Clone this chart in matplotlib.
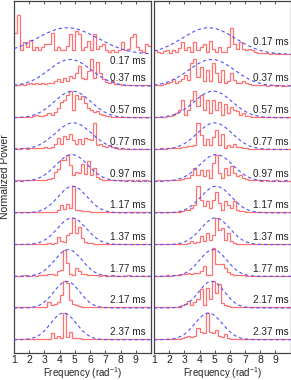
import numpy as np
import matplotlib
matplotlib.use("Agg")
import matplotlib.pyplot as plt

plt.rcParams['font.family'] = ['Liberation Sans', 'DejaVu Sans']
plt.rcParams['mathtext.default'] = 'regular'

delay_labels = ['0.17 ms', '0.37 ms', '0.57 ms', '0.77 ms', '0.97 ms',
                '1.17 ms', '1.37 ms', '1.77 ms', '2.17 ms', '2.37 ms']
freq_ticks = [1, 2, 3, 4, 5, 6, 7, 8, 9]
bin_start = 1.0
bin_width = 0.2

left_power = [
    [0.8, 1.48, 0.15, 0.45, 0.27, 0.54, 0.15, 0.27, 0.15, 0.27, 0.4, 0.4, 0.79, 0.15, 0.27, 0.15, 0.15, 0.33, 0.76, 0.15,
     0.86, 0.76, 0.15, 0.27, 0.52, 0.15, 0.76, 0.21, 0.33, 0.4, 0.15, 0.09, 0.15, 0.09, 0.15, 0.46, 0.15, 0.21, 0.64, 0.76,
     0.27, 0.15, 0.09, 0.4, 0.33],
    [0.05, 0.04, 0.06, 0.05, 0.08, 0.1, 0.06, 0.12, 0.08, 0.1, 0.07, 0.12, 0.1, 0.2, 0.25, 0.15, 0.3, 0.2, 0.38, 0.3,
     0.5, 0.75, 0.3, 0.25, 0.55, 1.0, 0.3, 0.9, 0.5, 0.25, 0.15, 0.1, 0.18, 0.08, 0.06, 0.05, 0.04, 0.03, 0.05, 0.03,
     0.04, 0.03, 0.04, 0.03, 0.03],
    [0.03, 0.02, 0.03, 0.02, 0.04, 0.03, 0.08, 0.1, 0.06, 0.05, 0.1, 0.18, 0.12, 0.2, 0.35, 0.6, 0.65, 0.85, 1.0, 0.3,
     0.85, 0.7, 0.8, 0.55, 0.35, 0.3, 0.2, 0.25, 0.15, 0.1, 0.08, 0.05, 0.04, 0.03, 0.03, 0.04, 0.03, 0.03, 0.02, 0.03,
     0.03, 0.02, 0.03, 0.03, 0.02],
    [0.04, 0.03, 0.05, 0.04, 0.03, 0.04, 0.05, 0.06, 0.05, 0.06, 0.08, 0.07, 0.1, 0.2, 0.45, 0.2, 0.5, 0.4, 0.6, 0.35,
     0.2, 0.4, 0.2, 0.45, 0.4, 0.35, 1.0, 0.15, 0.2, 0.12, 0.1, 0.15, 0.08, 0.05, 0.03, 0.04, 0.03, 0.03, 0.03, 0.02,
     0.03, 0.03, 0.02, 0.03, 0.03],
    [0.02, 0.03, 0.02, 0.03, 0.03, 0.04, 0.03, 0.04, 0.05, 0.06, 0.05, 0.08, 0.12, 0.35, 0.45, 0.78, 0.8, 1.0, 0.6, 0.25,
     0.35, 0.3, 0.65, 0.28, 0.75, 0.25, 0.5, 0.15, 0.1, 0.06, 0.05, 0.03, 0.03, 0.04, 0.03, 0.03, 0.02, 0.03, 0.03, 0.02,
     0.03, 0.02, 0.03, 0.03, 0.02],
    [0.02, 0.03, 0.02, 0.03, 0.02, 0.03, 0.03, 0.02, 0.03, 0.03, 0.04, 0.03, 0.04, 0.05, 0.1, 0.3, 0.15, 0.35, 0.2, 1.0,
     0.12, 0.1, 0.08, 0.07, 0.06, 0.05, 0.04, 0.04, 0.03, 0.03, 0.04, 0.03, 0.03, 0.02, 0.03, 0.03, 0.02, 0.03, 0.02, 0.03,
     0.02, 0.03, 0.02, 0.02, 0.03],
    [0.02, 0.02, 0.03, 0.02, 0.03, 0.02, 0.03, 0.03, 0.02, 0.03, 0.03, 0.06, 0.04, 0.06, 0.28, 0.12, 0.08, 0.35, 0.45, 1.0,
     0.45, 0.65, 0.25, 0.1, 0.06, 0.05, 0.04, 0.03, 0.04, 0.03, 0.03, 0.02, 0.03, 0.03, 0.02, 0.03, 0.02, 0.02, 0.03, 0.02,
     0.02, 0.03, 0.02, 0.02, 0.02],
    [0.02, 0.02, 0.02, 0.03, 0.02, 0.02, 0.03, 0.02, 0.03, 0.03, 0.05, 0.1, 0.08, 0.05, 0.2, 0.25, 1.0, 0.5, 0.08, 0.05,
     0.3, 0.2, 0.08, 0.1, 0.05, 0.04, 0.03, 0.03, 0.02, 0.03, 0.02, 0.02, 0.03, 0.02, 0.02, 0.02, 0.02, 0.03, 0.02, 0.02,
     0.02, 0.02, 0.02, 0.02, 0.02],
    [0.02, 0.02, 0.02, 0.02, 0.02, 0.02, 0.02, 0.03, 0.02, 0.03, 0.04, 0.22, 0.1, 0.15, 0.22, 0.5, 1.0, 0.95, 0.3, 0.15,
     0.1, 0.06, 0.04, 0.03, 0.03, 0.02, 0.02, 0.02, 0.02, 0.02, 0.02, 0.02, 0.02, 0.02, 0.02, 0.02, 0.02, 0.02, 0.02, 0.02,
     0.02, 0.02, 0.02, 0.02, 0.02],
    [0.02, 0.02, 0.02, 0.02, 0.02, 0.02, 0.02, 0.02, 0.03, 0.03, 0.03, 0.04, 0.25, 0.08, 0.15, 0.08, 1.0, 0.1, 0.28, 0.08,
     0.05, 0.08, 0.03, 0.03, 0.02, 0.02, 0.02, 0.02, 0.02, 0.02, 0.02, 0.02, 0.02, 0.02, 0.02, 0.02, 0.02, 0.02, 0.02, 0.02,
     0.02, 0.02, 0.02, 0.02, 0.02],
]

right_power = [
    [0.15, 0.1, 0.05, 0.12, 0.15, 0.06, 0.15, 0.1, 0.25, 0.45, 0.15, 0.28, 0.1, 0.45, 0.15, 0.28, 0.38, 0.1, 0.5, 0.22,
     0.1, 0.28, 0.1, 0.1, 0.28, 1.0, 0.4, 0.22, 0.45, 0.22, 0.15, 0.22, 0.15, 0.08, 0.05, 0.06, 0.04, 0.05, 0.03, 0.04,
     0.03, 0.03, 0.02, 0.03, 0.02],
    [0.03, 0.04, 0.03, 0.08, 0.1, 0.15, 0.28, 0.1, 0.2, 0.25, 0.4, 0.22, 0.85, 1.0, 0.35, 0.7, 0.2, 0.6, 0.2, 0.85,
     0.5, 0.15, 0.6, 0.12, 0.2, 0.5, 0.22, 0.1, 0.1, 0.2, 0.1, 0.08, 0.05, 0.03, 0.04, 0.03, 0.03, 0.02, 0.03, 0.03,
     0.02, 0.03, 0.02, 0.02, 0.03],
    [0.03, 0.03, 0.04, 0.03, 0.05, 0.08, 0.1, 0.17, 0.3, 0.65, 0.12, 0.3, 0.65, 1.0, 0.45, 0.85, 0.3, 0.65, 0.17, 0.65,
     0.3, 0.6, 0.12, 0.5, 0.17, 0.42, 0.3, 0.25, 0.12, 0.17, 0.08, 0.05, 0.03, 0.04, 0.03, 0.03, 0.02, 0.03, 0.03, 0.02,
     0.03, 0.02, 0.03, 0.02, 0.02],
    [0.03, 0.03, 0.04, 0.03, 0.05, 0.04, 0.05, 0.06, 0.07, 0.08, 0.1, 0.12, 0.12, 0.15, 1.0, 0.53, 0.16, 0.4, 0.16, 0.47,
     0.72, 0.16, 0.6, 0.05, 0.16, 0.1, 0.22, 0.1, 0.08, 0.06, 0.04, 0.03, 0.03, 0.02, 0.03, 0.02, 0.03, 0.02, 0.02, 0.03,
     0.02, 0.02, 0.03, 0.02, 0.02],
    [0.02, 0.03, 0.02, 0.03, 0.03, 0.04, 0.03, 0.05, 0.06, 0.08, 0.12, 0.12, 0.25, 0.5, 0.25, 0.43, 0.19, 0.43, 0.12, 0.68,
     1.0, 0.3, 0.12, 0.5, 0.25, 0.56, 0.31, 0.19, 0.25, 0.12, 0.08, 0.05, 0.03, 0.04, 0.03, 0.02, 0.03, 0.03, 0.02, 0.02,
     0.03, 0.02, 0.02, 0.03, 0.02],
    [0.02, 0.02, 0.03, 0.02, 0.03, 0.03, 0.04, 0.04, 0.05, 0.06, 0.12, 0.12, 0.19, 0.31, 1.0, 0.5, 0.25, 0.43, 0.19, 0.5,
     0.8, 0.37, 0.12, 0.43, 0.31, 0.19, 0.43, 0.12, 0.08, 0.06, 0.04, 0.03, 0.03, 0.02, 0.03, 0.02, 0.02, 0.03, 0.02, 0.02,
     0.02, 0.03, 0.02, 0.02, 0.02],
    [0.02, 0.02, 0.02, 0.03, 0.02, 0.02, 0.03, 0.02, 0.03, 0.03, 0.04, 0.05, 0.12, 0.06, 0.08, 0.31, 0.12, 0.43, 0.19, 0.37,
     1.0, 0.55, 0.62, 0.19, 0.43, 0.12, 0.06, 0.04, 0.03, 0.03, 0.02, 0.02, 0.03, 0.02, 0.02, 0.02, 0.02, 0.02, 0.02, 0.02,
     0.02, 0.02, 0.02, 0.02, 0.02],
    [0.02, 0.02, 0.02, 0.02, 0.03, 0.02, 0.03, 0.03, 0.05, 0.08, 0.1, 0.12, 0.1, 0.12, 0.12, 0.2, 0.4, 0.05, 0.05, 1.05,
     0.45, 0.48, 0.48, 0.3, 0.15, 0.1, 0.05, 0.04, 0.03, 0.03, 0.02, 0.02, 0.02, 0.02, 0.02, 0.02, 0.02, 0.02, 0.02, 0.02,
     0.02, 0.02, 0.02, 0.02, 0.02],
    [0.02, 0.02, 0.02, 0.02, 0.02, 0.03, 0.02, 0.03, 0.04, 0.1, 0.15, 0.28, 0.12, 0.22, 0.35, 0.7, 0.1, 0.75, 0.35, 1.0,
     0.55, 0.9, 0.2, 0.1, 0.06, 0.05, 0.03, 0.03, 0.02, 0.02, 0.02, 0.02, 0.02, 0.02, 0.02, 0.02, 0.02, 0.02, 0.02, 0.02,
     0.02, 0.02, 0.02, 0.02, 0.02],
    [0.02, 0.02, 0.02, 0.02, 0.02, 0.02, 0.02, 0.03, 0.03, 0.06, 0.1, 0.14, 0.1, 0.15, 0.45, 0.28, 0.25, 1.0, 0.28, 0.25,
     0.35, 0.15, 0.1, 0.2, 0.06, 0.04, 0.03, 0.02, 0.02, 0.02, 0.02, 0.02, 0.02, 0.02, 0.02, 0.02, 0.02, 0.02, 0.02, 0.02,
     0.02, 0.02, 0.02, 0.02, 0.02],
]

# Gaussian fit parameters (centre, width)
left_fit_center = [4.5, 4.68, 4.85, 4.9, 4.8, 4.85, 4.8, 4.57, 4.47, 4.25]
left_fit_sigma = [2.0, 1.4, 1.2, 1.2, 1.05, 0.95, 0.95, 0.9, 0.85, 0.85]
right_fit_center = [4.6, 4.8, 4.9, 5.0, 5.1, 5.1, 5.05, 4.9, 4.8, 4.6]
right_fit_sigma = [1.75, 1.5, 1.25, 1.15, 1.1, 1.0, 0.95, 0.9, 0.85, 0.9]

W, H = 291, 380
fig = plt.figure(figsize=(W / 100, H / 100), dpi=100)
ax_l = fig.add_axes([14 / W, 1 - 353 / H, 137 / W, 352.5 / H])
ax_r = fig.add_axes([154 / W, 1 - 353 / H, 136.5 / W, 352.5 / H])

RED = '#ff6262'
BLUE = '#5050ff'
AMP = 0.84
n_rows = len(delay_labels)
fgrid = np.linspace(1, 10, 400)


def draw_panel(ax, power, centers, sigmas, label_x, first_dy):
    for i, vals in enumerate(power):
        off = n_rows - 1 - i
        vals = np.asarray(vals)
        edges = bin_start + bin_width * np.arange(len(vals) + 1)
        ax.stairs(vals * AMP + off, edges, baseline=None, color=RED, lw=0.9, alpha=0.9, zorder=2)
        g = AMP * np.exp(-(fgrid - centers[i]) ** 2 / (2 * sigmas[i] ** 2)) + off
        ax.plot(fgrid, g, color=BLUE, lw=0.8, ls=(0, (3, 2.5)), zorder=3)
        dy = first_dy if i == 0 else 0.24
        ax.text(label_x, off + dy, delay_labels[i], ha='right', va='center', fontsize=7.2, color='#222222')
    ax.set_xlim(1, 10)
    ax.set_ylim(-0.42, 10.7)
    ax.set_xticks(freq_ticks)
    ax.set_xticklabels([str(t) for t in freq_ticks])
    ax.set_yticks([])
    ax.tick_params(axis='x', direction='in', top=True, length=2.5, width=0.6, labelsize=7.5, pad=1.2,
                   colors='#333333', labelcolor='#222222')
    for s in ax.spines.values():
        s.set_color('#444444')
        s.set_linewidth(0.9)
    ax.set_xlabel('Frequency (rad$^{-1}$)', fontsize=7.0, color='#222222', labelpad=0.3)


draw_panel(ax_l, left_power, left_fit_center, left_fit_sigma, 9.65, -0.2)
draw_panel(ax_r, right_power, right_fit_center, right_fit_sigma, 9.85, 0.38)
ax_l.set_ylabel('Normalized Power', fontsize=7.5, color='#222222', labelpad=3)

fig.savefig('out.png', dpi=100)
